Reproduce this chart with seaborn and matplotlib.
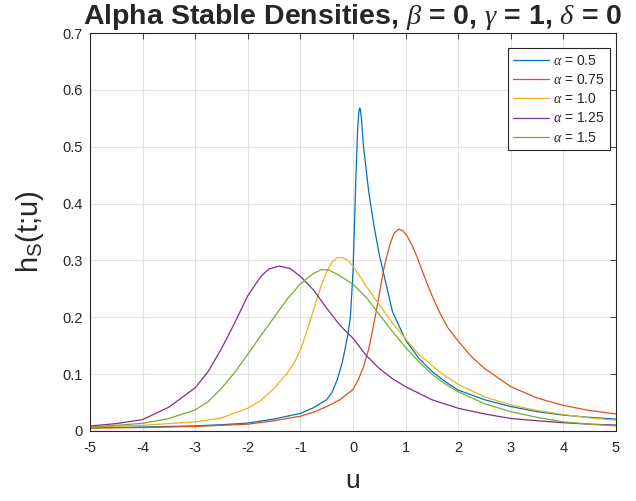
import matplotlib
matplotlib.use("Agg")
import matplotlib.pyplot as plt
import seaborn as sns
import pandas as pd

# ---- data ----
u_a050 = [-5, -4, -3, -2.5, -2, -1.5, -1.25, -1, -0.75, -0.5, -0.4, -0.3, -0.2, -0.1, -0.05,
          0, 0.03, 0.06, 0.09, 0.11, 0.125, 0.14, 0.16, 0.2, 0.3, 0.4, 0.5, 0.6, 0.75, 1.0,
          1.25, 1.5, 1.75, 2.0, 2.5, 3.0, 3.5, 4.0, 4.5, 5.0]
h_a050 = [0.006, 0.007, 0.009, 0.011, 0.014, 0.021, 0.026, 0.031, 0.041, 0.055, 0.068, 0.09,
          0.122, 0.168, 0.2, 0.28, 0.37, 0.46, 0.535, 0.56, 0.568, 0.566, 0.55, 0.5, 0.42,
          0.36, 0.31, 0.27, 0.21, 0.16, 0.128, 0.105, 0.087, 0.072, 0.055, 0.043, 0.034,
          0.028, 0.024, 0.021]

u_a075 = [-5, -4, -3, -2.5, -2, -1.5, -1, -0.75, -0.5, -0.25, 0, 0.1, 0.2, 0.3, 0.4, 0.5,
          0.58, 0.65, 0.71, 0.78, 0.87, 0.95, 1.03, 1.12, 1.22, 1.31, 1.41, 1.53, 1.66, 1.8,
          2.0, 2.25, 2.5, 3.0, 3.5, 4.0, 4.5, 5.0]
h_a075 = [0.005, 0.006, 0.008, 0.010, 0.012, 0.018, 0.026, 0.033, 0.043, 0.055, 0.073, 0.09,
          0.113, 0.145, 0.19, 0.24, 0.283, 0.31, 0.33, 0.348, 0.355, 0.352, 0.343, 0.327,
          0.306, 0.283, 0.259, 0.232, 0.206, 0.182, 0.158, 0.131, 0.11, 0.078, 0.058, 0.045,
          0.036, 0.03]

u_a100 = [-5, -4, -3, -2.5, -2, -1.75, -1.5, -1.25, -1.1, -1.0, -0.87, -0.75, -0.6, -0.5,
          -0.4, -0.3, -0.2, -0.1, 0, 0.1, 0.25, 0.5, 0.75, 1.0, 1.25, 1.5, 1.75, 2.0, 2.5,
          3.0, 3.5, 4.0, 4.5, 5.0]
h_a100 = [0.007, 0.010, 0.016, 0.023, 0.04, 0.054, 0.075, 0.102, 0.123, 0.143, 0.177, 0.213,
          0.257, 0.28, 0.297, 0.305, 0.305, 0.3, 0.29, 0.276, 0.255, 0.222, 0.19, 0.162,
          0.135, 0.115, 0.097, 0.082, 0.06, 0.046, 0.036, 0.029, 0.023, 0.019]

u_a125 = [-5, -4.5, -4, -3.5, -3, -2.75, -2.5, -2.25, -2.0, -1.75, -1.6, -1.4, -1.2, -1.0,
          -0.75, -0.5, -0.25, 0, 0.25, 0.5, 0.75, 1.0, 1.5, 2.0, 2.5, 3.0, 3.5, 4.0, 4.5, 5.0]
h_a125 = [0.0088, 0.013, 0.02, 0.042, 0.076, 0.105, 0.145, 0.19, 0.238, 0.272, 0.285, 0.29,
          0.286, 0.272, 0.248, 0.216, 0.186, 0.163, 0.133, 0.11, 0.092, 0.078, 0.055, 0.04,
          0.03, 0.022, 0.018, 0.0145, 0.012, 0.0105]

u_a150 = [-5, -4.5, -4, -3.5, -3, -2.75, -2.5, -2.25, -2.0, -1.75, -1.5, -1.25, -1.0, -0.75,
          -0.6, -0.45, -0.25, 0, 0.25, 0.5, 0.75, 1.0, 1.25, 1.5, 1.75, 2.0, 2.5, 3.0, 3.5,
          4.0, 4.5, 5.0]
h_a150 = [0.007, 0.01, 0.0135, 0.022, 0.037, 0.052, 0.075, 0.103, 0.135, 0.168, 0.2, 0.232,
          0.259, 0.277, 0.284, 0.283, 0.273, 0.258, 0.235, 0.205, 0.175, 0.147, 0.122, 0.1,
          0.083, 0.069, 0.048, 0.034, 0.024, 0.016, 0.012, 0.009]

series_labels = [r"$\alpha$ = 0.5", r"$\alpha$ = 0.75", r"$\alpha$ = 1.0",
                 r"$\alpha$ = 1.25", r"$\alpha$ = 1.5"]
series_colors = ["#0072BD", "#D95319", "#EDB120", "#7E2F8E", "#77AC30"]
x_ticks = [-5, -4, -3, -2, -1, 0, 1, 2, 3, 4, 5]
x_tick_labels = ["-5", "-4", "-3", "-2", "-1", "0", "1", "2", "3", "4", "5"]
y_ticks = [0, 0.1, 0.2, 0.3, 0.4, 0.5, 0.6, 0.7]
y_tick_labels = ["0", "0.1", "0.2", "0.3", "0.4", "0.5", "0.6", "0.7"]

sns.set_theme(style="white")
plt.rcParams["font.family"] = ["Liberation Sans", "DejaVu Sans"]
plt.rcParams["mathtext.fontset"] = "custom"
plt.rcParams["mathtext.rm"] = "Liberation Sans"
plt.rcParams["mathtext.it"] = "Liberation Serif:italic"
plt.rcParams["mathtext.bf"] = "Liberation Sans:bold"

fig = plt.figure(figsize=(6.36, 5.01), dpi=100)
ax = fig.add_axes([90 / 636, 1 - 431 / 501, 526 / 636, 398 / 501])

us = [u_a050, u_a075, u_a100, u_a125, u_a150]
hs = [h_a050, h_a075, h_a100, h_a125, h_a150]
for u, h, lab, col in zip(us, hs, series_labels, series_colors):
    df = pd.DataFrame({"u": u, "h": h})
    sns.lineplot(data=df, x="u", y="h", color=col, label=lab, linewidth=0.9, ax=ax)

ax.set_xlim(-5, 5)
ax.set_ylim(0, 0.7)
ax.set_xticks(x_ticks)
ax.set_xticklabels(x_tick_labels)
ax.set_yticks(y_ticks)
ax.set_yticklabels(y_tick_labels)
ax.grid(True, color="#e3e3e3", linewidth=0.8)
ax.set_axisbelow(True)
for sp in ax.spines.values():
    sp.set_color("#262626")
    sp.set_linewidth(0.8)
ax.tick_params(direction="in", length=4, width=0.6, color="#262626",
               top=True, right=True, labelsize=10.5, labelcolor="#262626", pad=5)
ax.tick_params(axis="x", pad=7)

ax.set_xlabel("u", fontsize=19, color="#262626", labelpad=10)
ax.set_ylabel(r"h$_{\rm S}$(t;u)", fontsize=21, color="#262626", labelpad=12)
ax.set_title(r"Alpha Stable Densities, $\beta$ = 0, $\gamma$ = 1, $\delta$ = 0",
             fontsize=20.5, fontweight="bold", pad=6.5)

leg = ax.legend(loc="upper right", bbox_to_anchor=((610 - 90) / 526, (431 - 48) / 398),
                borderaxespad=0, fontsize=10, handlelength=2.55, handletextpad=0.3,
                labelspacing=0.38, frameon=True, fancybox=False, framealpha=1,
                edgecolor="#262626", borderpad=0.4)
leg.get_frame().set_linewidth(0.8)

fig.savefig("out.png", dpi=100)
